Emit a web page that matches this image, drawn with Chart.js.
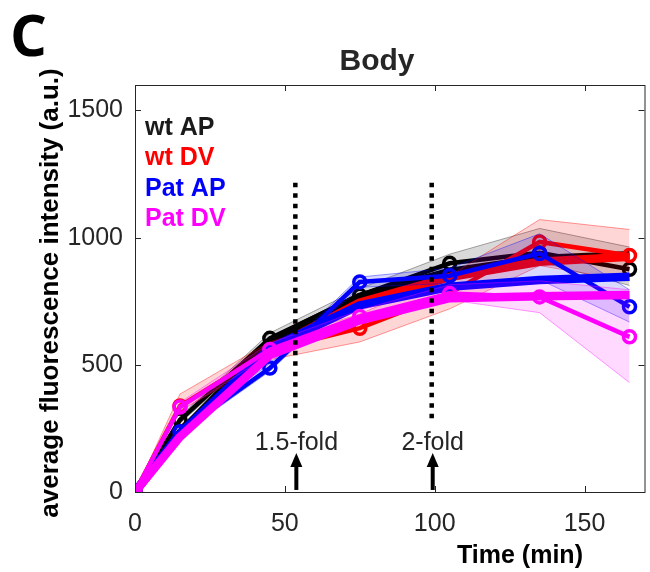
<!DOCTYPE html>
<html>
<head>
<meta charset="utf-8">
<script src="https://cdn.jsdelivr.net/npm/chart.js@4.4.0/dist/chart.umd.min.js"></script>
<style>
  html, body { margin: 0; padding: 0; background: #fff; overflow: hidden; }
  #wrap { width: 654px; height: 572px; }
</style>
</head>
<body>
<div id="wrap"><canvas id="bodyChart" width="654" height="572"></canvas></div>
<script>
// sampling times (min)
const times = [0, 15, 45, 75, 105, 135, 165];

// measured means
const wtAP  = [0, 283, 604, 773, 899, 940, 876];
const wtDV  = [0, 338, 557, 644, 781, 983, 930];
const patAP = [0, 237, 487, 826, 850, 938, 728];
const patDV = [0, 334, 560, 690, 780, 767, 610];

// shaded error bands
const wtAPLow   = [0, 270, 585, 755, 865, 905, 812];
const wtAPHigh  = [0, 298, 625, 800, 935, 1036, 963];
const wtDVLow   = [0, 320, 520, 590, 720, 890, 830];
const wtDVHigh  = [0, 385, 590, 700, 850, 1071, 1032];
const patAPLow  = [0, 225, 475, 805, 820, 835, 668];
const patAPHigh = [0, 250, 505, 845, 880, 1015, 795];
const patDVLow  = [0, 315, 540, 665, 755, 705, 430];
const patDVHigh = [0, 352, 585, 715, 815, 830, 795];

// fitted curves
const wtAPFit  = [0, 231, 590, 767, 865, 916, 931];
const wtDVFit  = [0, 225, 560, 745, 845, 905, 925];
const patAPFit = [0, 231, 565, 734, 807, 833, 846];
const patDVFit = [0, 217, 538, 675, 762, 770, 774];

// fold-change markers
const foldTimes = [53.5, 99];
const foldLabels = ['1.5-fold', '2-fold'];
const foldLineRange = [290, 1225];
const arrowRange = [8, 153];
const foldLabelY = 200;

const xTicks = [0, 50, 100, 150];
const yTicks = [0, 500, 1000, 1500];

const groupNames = ['wt AP', 'wt DV', 'Pat AP', 'Pat DV'];
const groupColors = ['#000000', '#ff0000', '#0000ff', '#ff00ff'];

const FONT = '"Liberation Sans", Arial, Helvetica, sans-serif';
const INK = '#262626';

const groups = [
  { mean: wtAP,  low: wtAPLow,  high: wtAPHigh,  fit: wtAPFit,  fill: 'rgba(0,0,0,0.15)',     edge: 'rgba(0,0,0,0.35)' },
  { mean: wtDV,  low: wtDVLow,  high: wtDVHigh,  fit: wtDVFit,  fill: 'rgba(255,0,0,0.16)',   edge: 'rgba(255,0,0,0.4)' },
  { mean: patAP, low: patAPLow, high: patAPHigh, fit: patAPFit, fill: 'rgba(0,0,255,0.15)',   edge: 'rgba(0,0,255,0.4)' },
  { mean: patDV, low: patDVLow, high: patDVHigh, fit: patDVFit, fill: 'rgba(255,0,255,0.15)', edge: 'rgba(255,0,255,0.4)' },
];

const pts = (ys) => times.map((t, i) => ({ x: t, y: ys[i] }));

const datasets = [];
groups.forEach((g, gi) => {
  const base = 30 - gi * 3; // later groups drawn on top
  const color = groupColors[gi];
  datasets.push({
    data: pts(g.high), borderColor: g.edge, borderWidth: 1, pointRadius: 0,
    fill: '+1', backgroundColor: g.fill, order: base,
  });
  datasets.push({
    data: pts(g.low), borderColor: g.edge, borderWidth: 1, pointRadius: 0,
    fill: false, order: base,
  });
  datasets.push({
    data: pts(g.mean), borderColor: color, borderWidth: 4.5, fill: false,
    pointRadius: 6, pointBorderWidth: 3.5, pointBorderColor: color,
    pointBackgroundColor: 'rgba(0,0,0,0)', order: base - 1,
  });
  datasets.push({
    data: pts(g.fit), borderColor: color, borderWidth: 8.5, fill: false,
    pointRadius: 0, borderJoinStyle: 'round', order: base - 2,
  });
});

// dotted vertical lines
foldTimes.forEach((t) => {
  datasets.push({
    data: [{ x: t, y: foldLineRange[0] }, { x: t, y: foldLineRange[1] }],
    borderColor: '#000', borderWidth: 4.5, borderDash: [4.5, 6], borderCapStyle: 'butt',
    pointRadius: 0, fill: false, order: 0,
  });
});

const decorPlugin = {
  id: 'decor',
  afterDraw(chart) {
    const { ctx, chartArea: a, scales: { x, y } } = chart;
    ctx.save();

    // box with inward ticks
    ctx.strokeStyle = INK;
    ctx.lineWidth = 1;
    ctx.strokeRect(a.left + 0.5, a.top + 0.5, a.right - a.left, a.bottom - a.top);
    ctx.beginPath();
    x.ticks.forEach((tk) => {
      const px = Math.round(x.getPixelForValue(tk.value)) + 0.5;
      ctx.moveTo(px, a.bottom); ctx.lineTo(px, a.bottom - 6);
      ctx.moveTo(px, a.top); ctx.lineTo(px, a.top + 6);
    });
    y.ticks.forEach((tk) => {
      const py = Math.round(y.getPixelForValue(tk.value)) + 0.5;
      ctx.moveTo(a.left, py); ctx.lineTo(a.left + 6, py);
      ctx.moveTo(a.right, py); ctx.lineTo(a.right - 6, py);
    });
    ctx.stroke();

    // arrows and fold labels
    ctx.fillStyle = '#000';
    ctx.strokeStyle = '#000';
    foldTimes.forEach((t, i) => {
      const px = x.getPixelForValue(t) + 1;
      const yb = y.getPixelForValue(arrowRange[0]);
      const yt = y.getPixelForValue(arrowRange[1]);
      ctx.lineWidth = 4;
      ctx.beginPath();
      ctx.moveTo(px, yb); ctx.lineTo(px, yt + 12);
      ctx.stroke();
      ctx.beginPath();
      ctx.moveTo(px, yt); ctx.lineTo(px - 6, yt + 14); ctx.lineTo(px + 6, yt + 14);
      ctx.closePath(); ctx.fill();

      ctx.fillStyle = INK;
      ctx.font = '25px ' + FONT;
      ctx.textAlign = 'center';
      ctx.textBaseline = 'middle';
      ctx.fillText(foldLabels[i], px, y.getPixelForValue(foldLabelY) + 2);
      ctx.fillStyle = '#000';
    });

    // legend text
    ctx.font = 'bold 25px ' + FONT;
    ctx.textAlign = 'left';
    ctx.textBaseline = 'middle';
    groupNames.forEach((n, i) => {
      ctx.fillStyle = groupColors[i] === '#000000' ? '#1a1a1a' : groupColors[i];
      ctx.fillText(n, a.left + 10, 128 + i * 30.5);
    });

    // title
    ctx.fillStyle = INK;
    ctx.font = 'bold 30px ' + FONT;
    ctx.textAlign = 'center';
    ctx.textBaseline = 'alphabetic';
    ctx.fillText('Body', 377, 70);

    // axis titles
    ctx.font = 'bold 25px ' + FONT;
    ctx.fillStyle = '#000';
    ctx.fillText('Time (min)', 520, 563);
    ctx.save();
    ctx.font = 'bold 26px ' + FONT;
    ctx.translate(51, 293);
    ctx.rotate(-Math.PI / 2);
    ctx.textBaseline = 'middle';
    ctx.fillText('average fluorescence intensity (a.u.)', 0, 0);
    ctx.restore();

    // panel letter
    ctx.font = 'bold 58px "Open Sans", ' + FONT;
    ctx.textAlign = 'left';
    ctx.fillStyle = '#000';
    ctx.fillText('C', 10, 56);

    ctx.restore();
  },
};

new Chart(document.getElementById('bodyChart').getContext('2d'), {
  type: 'line',
  data: { datasets },
  options: {
    responsive: false,
    animation: false,
    devicePixelRatio: 1,
    layout: { padding: { top: 85, left: 0, right: 2, bottom: 0 } },
    plugins: { legend: { display: false }, tooltip: { enabled: false } },
    elements: { line: { tension: 0 } },
    scales: {
      x: {
        type: 'linear', min: 0, max: 170,
        grid: { display: false, drawTicks: false },
        border: { display: false },
        afterBuildTicks: (s) => { s.ticks = xTicks.map((v) => ({ value: v })); },
        afterFit: (s) => { s.height = 80; },
        ticks: { color: INK, font: { family: FONT, size: 25 }, padding: 17, maxRotation: 0, callback: (v) => String(v) },
      },
      y: {
        min: 0, max: 1600,
        grid: { display: false, drawTicks: false },
        border: { display: false },
        afterBuildTicks: (s) => { s.ticks = yTicks.map((v) => ({ value: v })); },
        afterFit: (s) => { s.width = 135; },
        ticks: { color: INK, font: { family: FONT, size: 25 }, padding: 12, callback: (v) => String(v) },
      },
    },
  },
  plugins: [decorPlugin],
});
</script>
</body>
</html>
